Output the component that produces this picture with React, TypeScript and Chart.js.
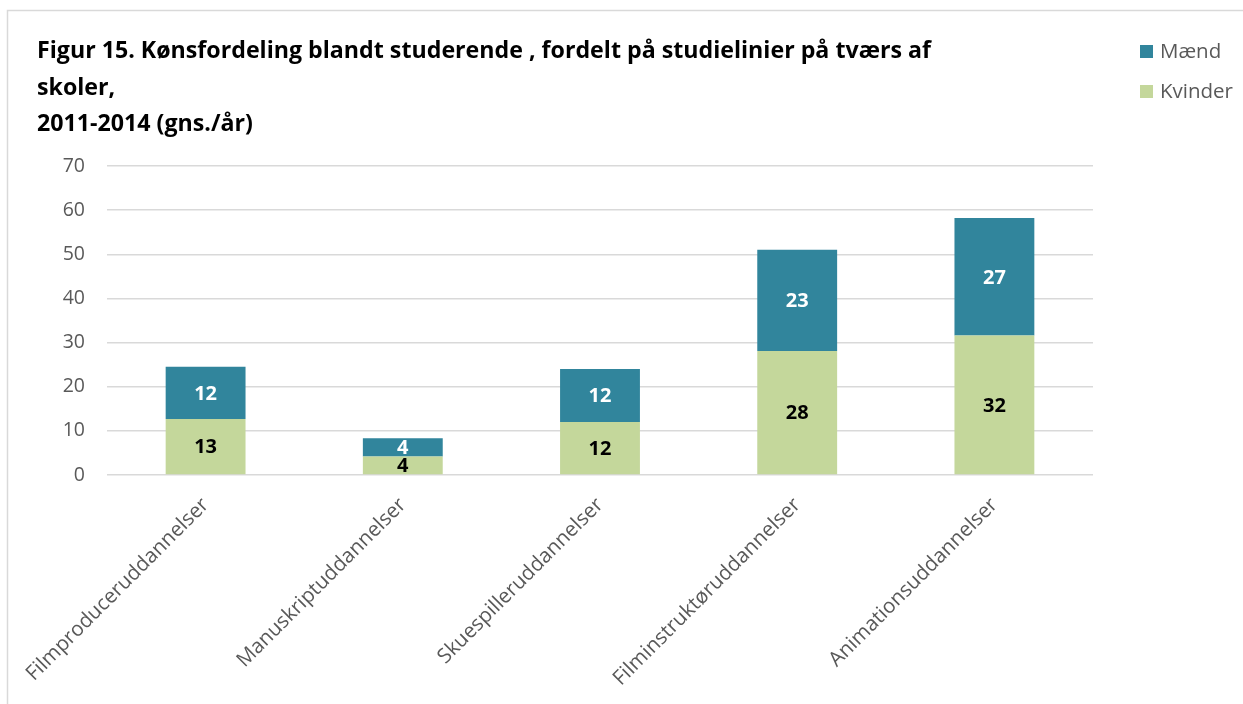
import React, { useEffect, useRef } from "react";
import { Chart, registerables } from "chart.js";

Chart.register(...registerables);

const categories = [
  "Filmproduceruddannelser",
  "Manuskriptuddannelser",
  "Skuespilleruddannelser",
  "Filminstruktøruddannelser",
  "Animationsuddannelser",
];
const kvinder = [12.7, 4.2, 12.0, 28.1, 31.6];
const maend = [11.8, 4.1, 12.0, 22.9, 26.6];
const yTicks = [0, 10, 20, 30, 40, 50, 60, 70];
const titleLines = [
  "Figur 15. Kønsfordeling blandt studerende , fordelt på studielinier på tværs af",
  "skoler,",
  "2011-2014 (gns./år)",
];
const legendItems = [
  { label: "Mænd", color: "#31859C" },
  { label: "Kvinder", color: "#C4D79B" },
];

const FONT = "'Open Sans', 'Liberation Sans', sans-serif";
const W = 1243;
const H = 704;
const PLOT = { left: 107, right: 1093, top: 166, bottom: 475 };

const framePlugin = {
  id: "frame",
  beforeDraw(chart: any) {
    const ctx = chart.ctx;
    ctx.save();
    ctx.fillStyle = "#ffffff";
    ctx.fillRect(0, 0, W, H);
    ctx.strokeStyle = "#d9d9d9";
    ctx.lineWidth = 1.5;
    ctx.beginPath();
    ctx.moveTo(7.5, H);
    ctx.lineTo(7.5, 10.5);
    ctx.lineTo(W, 10.5);
    ctx.stroke();
    ctx.restore();
  },
  afterDraw(chart: any) {
    const ctx = chart.ctx;
    ctx.save();
    // title
    ctx.fillStyle = "#000000";
    ctx.font = `bold 23.2px ${FONT}`;
    ctx.textAlign = "left";
    ctx.textBaseline = "middle";
    const ys = [51, 88, 124];
    titleLines.forEach((t, i) => ctx.fillText(t, 37, ys[i]));
    // legend
    ctx.font = `20.5px ${FONT}`;
    legendItems.forEach((it, i) => {
      const cy = 52 + i * 40;
      ctx.fillStyle = it.color;
      ctx.fillRect(1140, cy - 7, 13, 13);
      ctx.fillStyle = "#595959";
      ctx.fillText(it.label, 1160, cy);
    });
    ctx.restore();
  },
};

const labelPlugin = {
  id: "segLabels",
  afterDatasetsDraw(chart: any) {
    const ctx = chart.ctx;
    ctx.save();
    ctx.font = `bold 20px ${FONT}`;
    ctx.textAlign = "center";
    ctx.textBaseline = "middle";
    chart.data.datasets.forEach((ds: any, di: number) => {
      const meta = chart.getDatasetMeta(di);
      meta.data.forEach((el: any, i: number) => {
        const v = ds.data[i];
        ctx.fillStyle = ds.labelColor;
        ctx.fillText(String(Math.round(v)), el.x, (el.y + el.base) / 2 + 1);
      });
    });
    ctx.restore();
  },
};

export default function App() {
  const ref = useRef<HTMLCanvasElement | null>(null);
  useEffect(() => {
    if (!ref.current) return;
    const chart = new Chart(ref.current, {
      type: "bar",
      data: {
        labels: categories,
        datasets: [
          {
            label: "Kvinder",
            data: kvinder,
            backgroundColor: "#C4D79B",
            labelColor: "#000000",
            barPercentage: 0.405,
            categoryPercentage: 1,
          } as any,
          {
            label: "Mænd",
            data: maend,
            backgroundColor: "#31859C",
            labelColor: "#ffffff",
            barPercentage: 0.405,
            categoryPercentage: 1,
          } as any,
        ],
      },
      options: {
        animation: false,
        responsive: false,
        maintainAspectRatio: false,
        layout: {
          padding: { left: 0, right: W - PLOT.right, top: PLOT.top, bottom: 0 },
        },
        plugins: {
          legend: { display: false },
          title: { display: false },
          tooltip: { enabled: false },
        },
        scales: {
          x: {
            stacked: true,
            grid: { display: false, drawTicks: false },
            border: { display: false },
            ticks: {
              color: "#595959",
              font: { family: FONT, size: 20.5 },
              maxRotation: 45,
              minRotation: 45,
              padding: 18,
              labelOffset: 0,
            },
            afterFit(scale: any) {
              scale.height = H - PLOT.bottom;
            },
          },
          y: {
            stacked: true,
            min: 0,
            max: 70,
            afterBuildTicks(scale: any) {
              scale.ticks = yTicks.map((v) => ({ value: v }));
            },
            grid: { color: "#d9d9d9", lineWidth: 1.5, drawTicks: false },
            border: { display: false },
            ticks: {
              color: "#595959",
              font: { family: FONT, size: 19.5 },
              padding: 22,
            },
            afterFit(scale: any) {
              scale.width = PLOT.left;
            },
          },
        },
      },
      plugins: [framePlugin, labelPlugin],
    });
    return () => chart.destroy();
  }, []);
  return (
    <div style={{ position: "fixed", left: 0, top: 0, width: W, height: H, background: "#fff" }}>
      <canvas ref={ref} width={W} height={H} style={{ width: W, height: H, display: "block" }} />
    </div>
  );
}
